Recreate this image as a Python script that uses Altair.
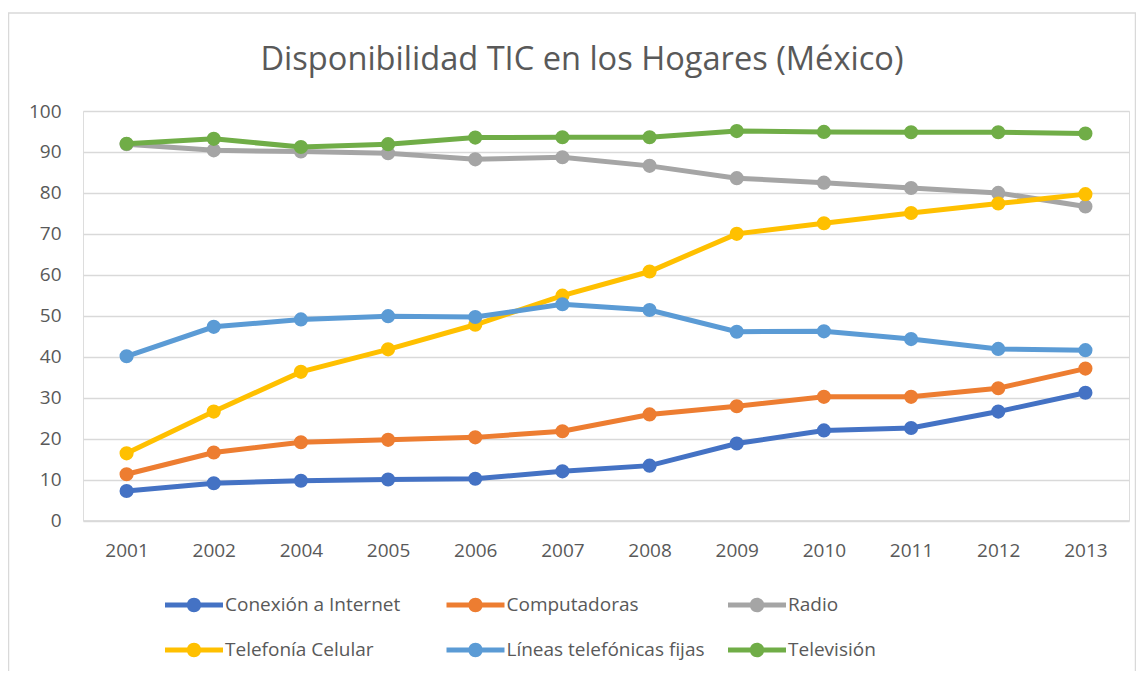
import altair as alt
import pandas as pd

years = ["2001", "2002", "2004", "2005", "2006", "2007", "2008", "2009", "2010", "2011", "2012", "2013"]
series_names = ["Conexión a Internet", "Computadoras", "Radio",
                "Telefonía Celular", "Líneas telefónicas fijas", "Televisión"]
colors = ["#4472C4", "#ED7D31", "#A5A5A5", "#FFC000", "#5B9BD5", "#70AD47"]

internet = [7.2, 9.1, 9.7, 10.0, 10.2, 12.0, 13.4, 18.8, 22.0, 22.6, 26.6, 31.2]
computadoras = [11.3, 16.6, 19.1, 19.7, 20.3, 21.8, 25.9, 27.9, 30.2, 30.2, 32.3, 37.1]
radio = [91.9, 90.4, 90.1, 89.7, 88.2, 88.7, 86.6, 83.6, 82.5, 81.2, 80.0, 76.7]
celular = [16.4, 26.6, 36.3, 41.8, 47.8, 54.9, 60.8, 70.0, 72.6, 75.1, 77.4, 79.7]
fijas = [40.1, 47.3, 49.1, 49.9, 49.7, 52.8, 51.4, 46.1, 46.2, 44.3, 41.9, 41.6]
television = [92.0, 93.2, 91.2, 91.9, 93.5, 93.6, 93.6, 95.1, 94.9, 94.8, 94.8, 94.5]

all_values = [internet, computadoras, radio, celular, fijas, television]

rows = []
for name, vals in zip(series_names, all_values):
    for y, v in zip(years, vals):
        rows.append({"Año": y, "Serie": name, "Valor": v})
df = pd.DataFrame(rows)

FONT = "Open Sans"
TXT = "#595959"
GRID = "#D9D9D9"

legend_path = ("M-1,-0.09L1,-0.09L1,0.09L-1,0.09Z "
               "M0.25,0A0.25,0.25,0,1,1,-0.25,0A0.25,0.25,0,1,1,0.25,0Z")

x_enc = alt.X("Año:O", sort=years,
              scale=alt.Scale(type="point", padding=0.5),
              axis=alt.Axis(title=None, labelAngle=0, labelFontSize=19, labelFont=FONT,
                            labelColor=TXT, ticks=False, domain=True, domainColor=GRID,
                            domainWidth=1.3, labelPadding=21, grid=False))
y_enc = alt.Y("Valor:Q", scale=alt.Scale(domain=[0, 100], nice=False),
              axis=alt.Axis(title=None, values=list(range(0, 101, 10)), labelFontSize=19,
                            labelFont=FONT, labelColor=TXT, ticks=False, domain=False,
                            gridColor=GRID, gridWidth=1.3, labelPadding=22))
color_enc = alt.Color("Serie:N",
                      scale=alt.Scale(domain=series_names, range=colors),
                      legend=alt.Legend(title=None, orient="none", legendX=82, legendY=465,
                                        direction="horizontal",
                                        columns=3, gridAlign="all", columnPadding=22.5,
                                        rowPadding=6, symbolType=legend_path,
                                        symbolSize=3364, symbolStrokeWidth=0,
                                        symbolOpacity=1, labelFontSize=19, labelFont=FONT,
                                        labelColor=TXT, labelOffset=2, labelLimit=400))

frame = alt.Chart(pd.DataFrame({"k": [0]})).mark_rect(
    fill=None, stroke=GRID, strokeWidth=1.5
).encode(x=alt.value(-74.5), x2=alt.value(1052.5), y=alt.value(-98), y2=alt.value(700))

layers = [frame]
for name in series_names:
    base = alt.Chart(df).transform_filter(alt.datum.Serie == name)
    layers.append(base.mark_line(strokeWidth=5).encode(x=x_enc, y=y_enc, color=color_enc))
    layers.append(base.mark_circle(size=200, opacity=1).encode(x=x_enc, y=y_enc, color=color_enc))

chart = alt.layer(*layers).properties(
    width=1046, height=409.5,
    title=alt.TitleParams("Disponibilidad TIC en los Hogares (México)", fontSize=32.6,
                          font=FONT, color=TXT, fontWeight="normal", anchor="middle",
                          frame="group", dx=-24, dy=68),
    autosize=alt.AutoSizeParams(type="none"),
    padding={"left": 75, "top": 103, "right": 7, "bottom": 150},
).configure_view(stroke=None).configure(background="white")

chart.save("out.html", embed_options={"renderer": "svg", "actions": False})
